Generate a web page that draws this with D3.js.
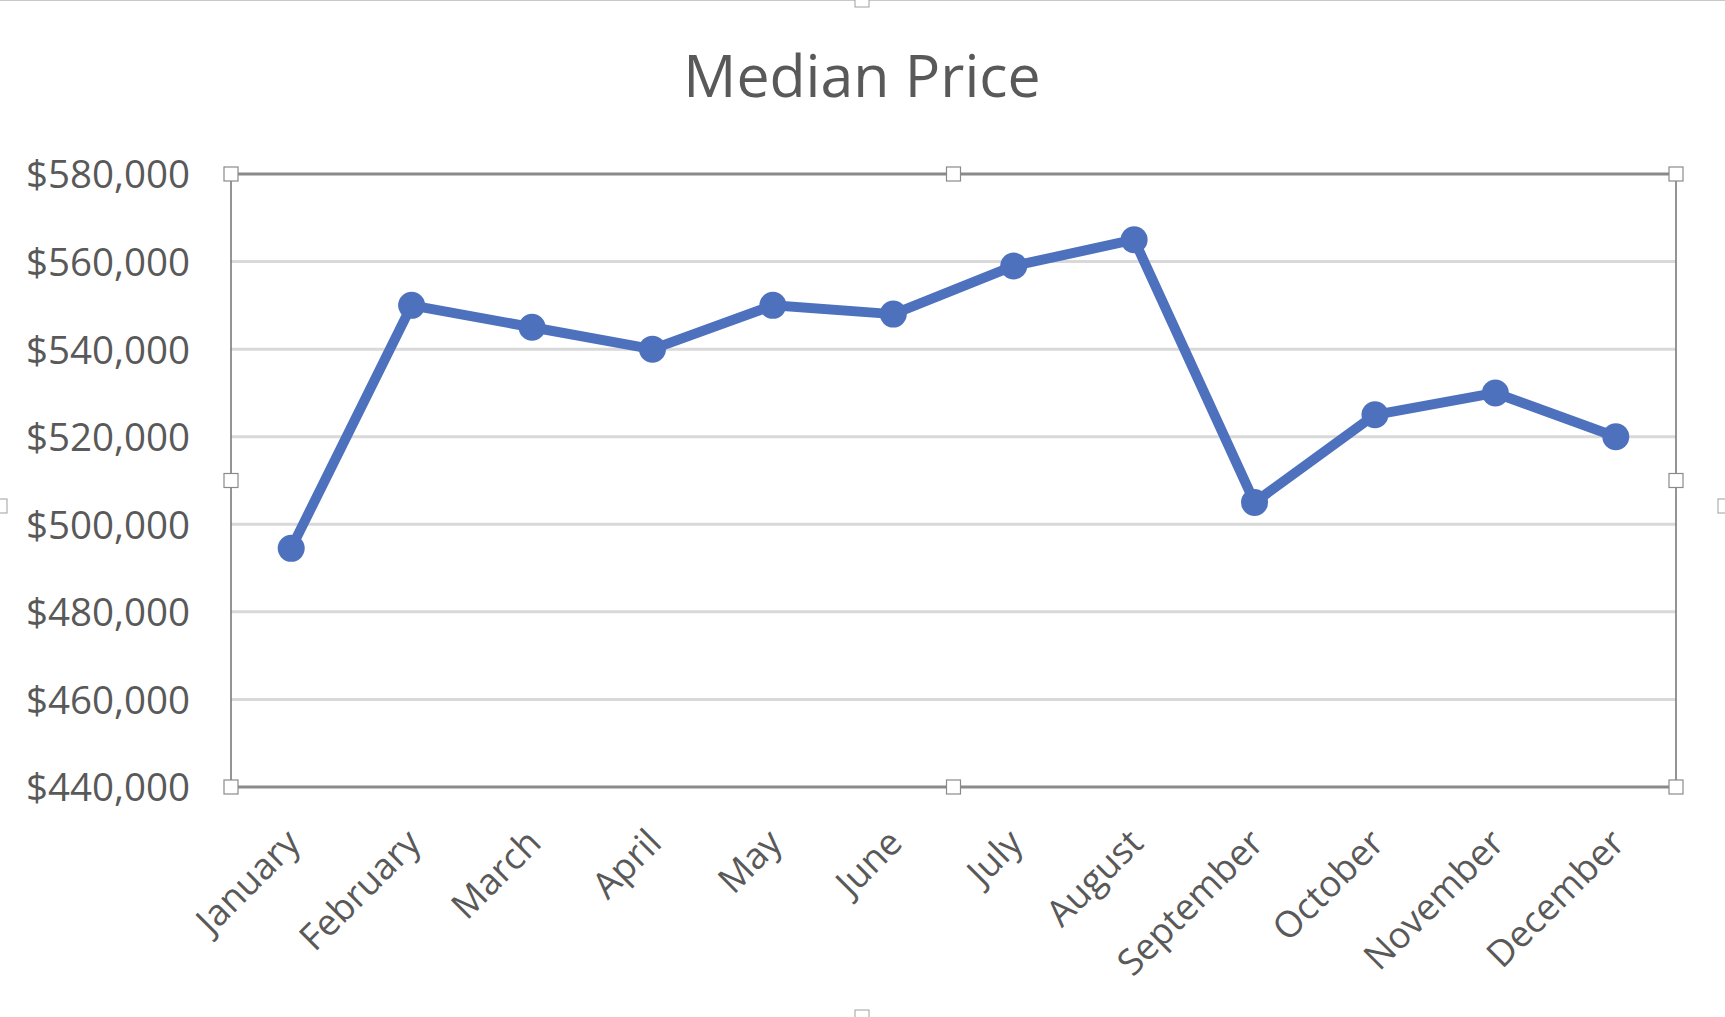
<!DOCTYPE html>
<html>
<head>
<meta charset="utf-8">
<script src="https://cdn.jsdelivr.net/npm/d3@7/dist/d3.min.js"></script>
<style>
  html, body { margin: 0; padding: 0; background: #fff; }
  svg { display: block; }
  text { font-family: "Open Sans", "Noto Sans", sans-serif; fill: #595959; }
</style>
</head>
<body>
<svg id="chart" width="1725" height="1017"></svg>
<script>
const title = "Median Price";
const months = ["January","February","March","April","May","June","July","August","September","October","November","December"];
const medianPrice = [494500, 550000, 545000, 540000, 550000, 548000, 559000, 565000, 505000, 525000, 530000, 520000];
const yTicks = [440000, 460000, 480000, 500000, 520000, 540000, 560000, 580000];

const W = 1725, H = 1017;
const plot = { left: 231, right: 1676, top: 174, bottom: 787 };
const svg = d3.select("#chart");

const x = d3.scaleBand().domain(months).range([plot.left, plot.right]);
const y = d3.scaleLinear().domain([440000, 580000]).range([plot.bottom, plot.top]);

// outer chart frame top edge (selection)
svg.append("line").attr("x1", 0).attr("x2", W).attr("y1", 0.5).attr("y2", 0.5)
  .attr("stroke", "#c8c8c8").attr("stroke-width", 1);

// title
svg.append("text").attr("x", 862).attr("y", 97).attr("text-anchor", "middle")
  .attr("font-size", 59).text(title);

// gridlines
const grid = svg.append("g");
grid.selectAll("line").data(yTicks.filter(v => v > 440000 && v < 580000)).join("line")
  .attr("x1", plot.left).attr("x2", plot.right)
  .attr("y1", d => y(d)).attr("y2", d => y(d))
  .attr("stroke", "#d9d9d9").attr("stroke-width", 3);

// top and bottom border lines
[580000, 440000].forEach(v => {
  svg.append("line").attr("x1", plot.left).attr("x2", plot.right)
    .attr("y1", y(v)).attr("y2", y(v))
    .attr("stroke", "#8a8a8a").attr("stroke-width", 3);
});
// plot-area selection frame (sides)
svg.append("line").attr("x1", plot.left).attr("x2", plot.left).attr("y1", plot.top).attr("y2", plot.bottom)
  .attr("stroke", "#707070").attr("stroke-width", 1.5);
svg.append("line").attr("x1", plot.right).attr("x2", plot.right).attr("y1", plot.top).attr("y2", plot.bottom)
  .attr("stroke", "#707070").attr("stroke-width", 1.5);

// y axis labels
const yAxis = d3.axisLeft(y).tickValues(yTicks).tickSize(0).tickPadding(41)
  .tickFormat(d => "$" + d3.format(",")(d));
const yg = svg.append("g").attr("transform", `translate(${plot.left},0)`).call(yAxis);
yg.select(".domain").remove();
yg.selectAll("text").attr("font-size", 38.5).attr("fill", "#595959")
  .style("font-family", '"Open Sans", sans-serif').attr("dy", "0.36em");

// x axis labels
const xAxis = d3.axisBottom(x).tickSize(0);
const xg = svg.append("g").attr("transform", `translate(0,${plot.bottom})`).call(xAxis);
xg.select(".domain").remove();
xg.selectAll("text").attr("font-size", 36.5).attr("fill", "#595959")
  .style("font-family", '"Open Sans", sans-serif')
  .attr("text-anchor", "end").attr("dy", null).attr("y", 0)
  .attr("transform", "translate(11,58) rotate(-45)");

// line + markers
const cx = d => x(d) + x.bandwidth() / 2;
const line = d3.line().x((d, i) => cx(months[i])).y(d => y(d));
svg.append("path").datum(medianPrice).attr("d", line)
  .attr("fill", "none").attr("stroke", "#4E71BE").attr("stroke-width", 10)
  .attr("stroke-linejoin", "round");
svg.selectAll("circle.pt").data(medianPrice).join("circle").attr("class", "pt")
  .attr("cx", (d, i) => cx(months[i])).attr("cy", d => y(d)).attr("r", 13.5)
  .attr("fill", "#4E71BE");

// selection handles on plot area
const mx = (plot.left + plot.right) / 2, my = (plot.top + plot.bottom) / 2;
const handles = [[plot.left, plot.top],[mx, plot.top],[plot.right, plot.top],
  [plot.left, my],[plot.right, my],
  [plot.left, plot.bottom],[mx, plot.bottom],[plot.right, plot.bottom]];
svg.selectAll("rect.h").data(handles).join("rect").attr("class", "h")
  .attr("x", d => d[0] - 7).attr("y", d => d[1] - 7).attr("width", 14).attr("height", 14)
  .attr("fill", "#fff").attr("stroke", "#8a8a8a").attr("stroke-width", 1.2);

// outer chart handles (partially visible)
const oh = [[862, 0],[0, 506],[1725, 506],[862, 1017]];
svg.selectAll("rect.oh").data(oh).join("rect").attr("class", "oh")
  .attr("x", d => d[0] - 7).attr("y", d => d[1] - 7).attr("width", 14).attr("height", 14)
  .attr("fill", "#fff").attr("stroke", "#a0a0a0").attr("stroke-width", 1);
</script>
</body>
</html>
